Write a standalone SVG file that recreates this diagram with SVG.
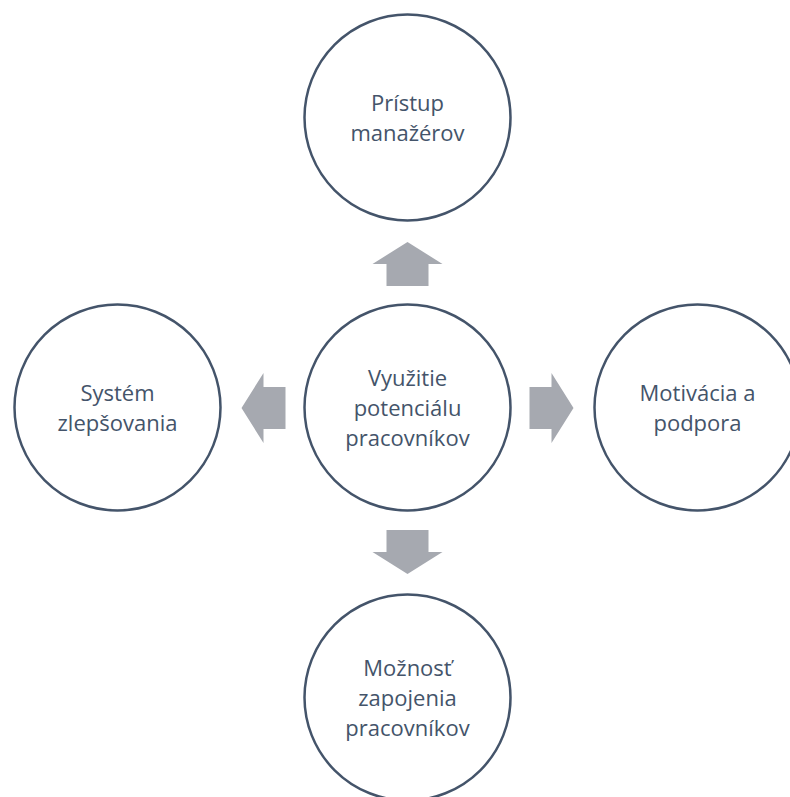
<svg xmlns="http://www.w3.org/2000/svg" width="790" height="797" viewBox="0 0 790 797">
<style>
.node circle{fill:#ffffff;stroke:#44546A;stroke-width:2.5}
.node text{font-family:"Open Sans","Liberation Sans",sans-serif;font-size:22px;fill:#44546A;text-anchor:middle}
.arr{fill:#A6A9B0}
</style>
<defs>
<path id="arrowR" d="M122,-21 H144 V-35 L166,0 L144,35 V21 H122 Z"/>
</defs>
<rect width="790" height="797" fill="#ffffff"/>
<g id="connectors">
<use href="#arrowR" class="arr" transform="translate(407.5,408) rotate(-90)"/>
<use href="#arrowR" class="arr" transform="translate(407.5,408)"/>
<use href="#arrowR" class="arr" transform="translate(407.5,408) rotate(90)"/>
<use href="#arrowR" class="arr" transform="translate(407.5,408) rotate(180)"/>
</g>
<g id="center" class="node">
<circle cx="407.5" cy="407.5" r="103"/>
<text x="407.5" y="386">Využitie</text>
<text x="407.5" y="416">potenciálu</text>
<text x="407.5" y="446">pracovníkov</text>
</g>
<g id="top" class="node">
<circle cx="407.5" cy="117.5" r="103"/>
<text x="407.5" y="111">Prístup</text>
<text x="407.5" y="140.5">manažérov</text>
</g>
<g id="right" class="node">
<circle cx="697.5" cy="407.5" r="103"/>
<text x="697.5" y="401">Motivácia a</text>
<text x="697.5" y="430.5">podpora</text>
</g>
<g id="bottom" class="node">
<circle cx="407.5" cy="697.5" r="103"/>
<text x="407.5" y="676">Možnosť</text>
<text x="407.5" y="706">zapojenia</text>
<text x="407.5" y="736">pracovníkov</text>
</g>
<g id="left" class="node">
<circle cx="117.5" cy="407.5" r="103"/>
<text x="117.5" y="401">Systém</text>
<text x="117.5" y="430.5">zlepšovania</text>
</g>
</svg>
